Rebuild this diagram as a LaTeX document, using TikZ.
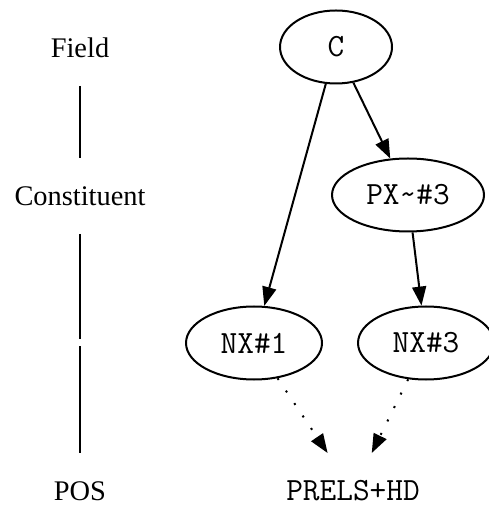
\documentclass[tikz,border=0pt]{standalone}
\usepackage{fontspec}
\setmainfont{Liberation Serif}
\usetikzlibrary{shapes.geometric,arrows.meta}

\begin{document}
\begin{tikzpicture}[x=0.5pt,y=-0.5pt,line width=1pt,
	lvl/.style={inner sep=0pt,minimum height=37pt,font=\fontsize{14.2}{17}\selectfont},
	cat/.style={draw,ellipse,inner sep=0pt,minimum height=36.5pt,font=\ttfamily\fontsize{16.2}{19}\selectfont},
	dep/.style={-{Triangle[length=9.5pt,width=7pt]}}]
	\useasboundingbox (0,0) rectangle (488,506);

	% levels on the left
	\node[lvl] (field) at (80,48) {Field};
	\node[lvl] (cons) at (80,196) {Constituent};
	\node[inner sep=0pt,minimum height=2.5pt] (gap) at (80,342.5) {};
	\node[lvl] (pos) at (80,491) {POS};
	\draw (field) -- (cons);
	\draw (cons) -- (gap);
	\draw (gap) -- (pos);

	% categories
	\node[cat,minimum width=56pt] (c) at (336,47) {C};
	\node[cat,minimum width=76pt] (px) at (408,195) {PX\textasciitilde\#3};
	\node[cat,minimum width=68pt] (nx1) at (254,343) {NX\#1};
	\node[cat,minimum width=68pt] (nx3) at (426,343) {NX\#3};
	\node[inner sep=0pt,minimum height=37pt,font=\ttfamily\fontsize{16.2}{19}\selectfont] (prels) at (353,491) {PRELS+HD};

	\draw[dep] (c) -- (nx1);
	\draw[dep] (c) -- (px);
	\draw[dep] (px) -- (nx3);
	\foreach \n in {nx1,nx3}
		\draw[dep,dash pattern=on 1pt off 6.5pt] (\n) -- (prels);
\end{tikzpicture}
\end{document}
